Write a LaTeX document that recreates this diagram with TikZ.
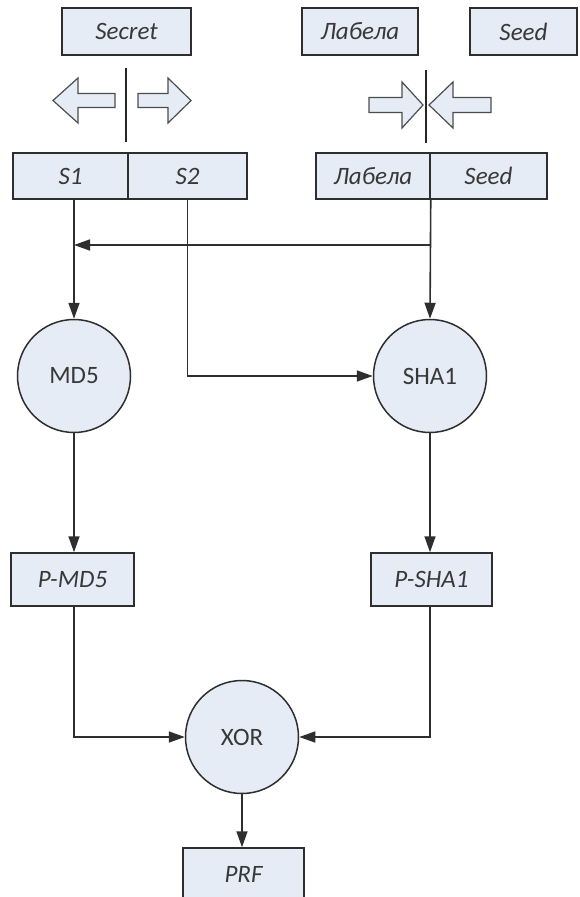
\documentclass[tikz,border=0pt]{standalone}
\usepackage{fontspec}
\setmainfont{Carlito}
\usetikzlibrary{arrows.meta}
\definecolor{boxfill}{HTML}{E6ECF6}
\definecolor{edge}{HTML}{2E2E2E}
\definecolor{ink}{HTML}{383838}
\tikzset{
  box/.style={draw=edge, line width=1.5pt, fill=boxfill, text=ink, inner sep=0pt,
    minimum height=47pt, font=\fontsize{25}{28}\selectfont\itshape},
  op/.style={circle, draw=edge, line width=1.5pt, fill=boxfill, text=ink, inner sep=0pt,
    minimum size=113pt, font=\fontsize{25}{28}\selectfont},
  link/.style={draw=edge, line width=1.6pt},
  arr/.style={link, -{Triangle[length=16pt,width=11pt]}},
  blockarrow/.style={draw=edge!85, line width=1.2pt, fill=boxfill, line join=miter},
  divider/.style={draw=black!85, line width=1.6pt}
}
\begin{document}
\begin{tikzpicture}[x=1pt, y=-1pt]
\clip (0,0) rectangle (579,897);
\fill[white] (0,0) rectangle (579,897);

% inputs
\node[box, minimum width=129pt] (secret) at (126.5,31.5) {Secret};
\node[box, minimum width=116pt] (label) at (360,31.5) {Лабела};
\node[box, minimum width=107pt] (seed) at (523.5,31.5) {Seed};

% split of the secret
\draw[blockarrow] (53,100.5) -- (78,78) -- (78,93.5) -- (115,93.5) -- (115,107.5)
  -- (78,107.5) -- (78,123) -- cycle;
\draw[blockarrow] (191,100.5) -- (168,78) -- (168,93.5) -- (138,93.5) -- (138,107.5)
  -- (168,107.5) -- (168,123) -- cycle;
\draw[divider] (126,68) -- (126,142);

% concatenation of label and seed
\draw[blockarrow] (423,105) -- (402,82) -- (402,97.5) -- (369,97.5) -- (369,112.5)
  -- (402,112.5) -- (402,128) -- cycle;
\draw[blockarrow] (429,105) -- (453,82) -- (453,97.5) -- (491,97.5) -- (491,112.5)
  -- (453,112.5) -- (453,128) -- cycle;
\draw[divider] (426,70) -- (426,143);

% halves and combined seed
\node[box, minimum width=115pt, minimum height=46pt] (s1) at (70.5,176) {S1};
\node[box, minimum width=119pt, minimum height=46pt] (s2) at (187.5,176) {S2};
\node[box, minimum width=114pt, minimum height=46pt] (lab2) at (373,176) {Лабела};
\node[box, minimum width=117pt, minimum height=46pt] (seed2) at (488.5,176) {Seed};

% hash functions
\node[op] (md5) at (74,376) {MD5};
\node[op] (sha1) at (430,376) {SHA1};

% outputs
\node[box, minimum width=123pt, minimum height=53pt] (pmd5) at (72.5,579.5) {P-MD5};
\node[box, minimum width=121pt, minimum height=53pt] (psha1) at (431.5,579.5) {P-SHA1};
\node[op] (xor) at (242,737) {XOR};
\node[box, minimum width=121pt, minimum height=53pt] (prf) at (243.5,874.5) {PRF};

% connectors
\coordinate (fork) at (430,245);
\draw[arr] (lab2.south east) -- (sha1.north);
\draw[arr] (fork) -- (fork -| md5.north);
\draw[arr] (md5.north |- s1.south) -- (md5.north);
\draw[arr] (s2.south) -- (s2.south |- sha1.west) -- (sha1.west);
\draw[arr] (md5.south) -- (md5.south |- pmd5.north);
\draw[arr] (sha1.south) -- (sha1.south |- psha1.north);
\draw[arr] (pmd5.south -| md5.south) -- (md5.south |- xor.west) -- (xor.west);
\draw[arr] (psha1.south -| sha1.south) -- (sha1.south |- xor.east) -- (xor.east);
\draw[arr] (xor.south) -- (xor.south |- prf.north);
\end{tikzpicture}
\end{document}
